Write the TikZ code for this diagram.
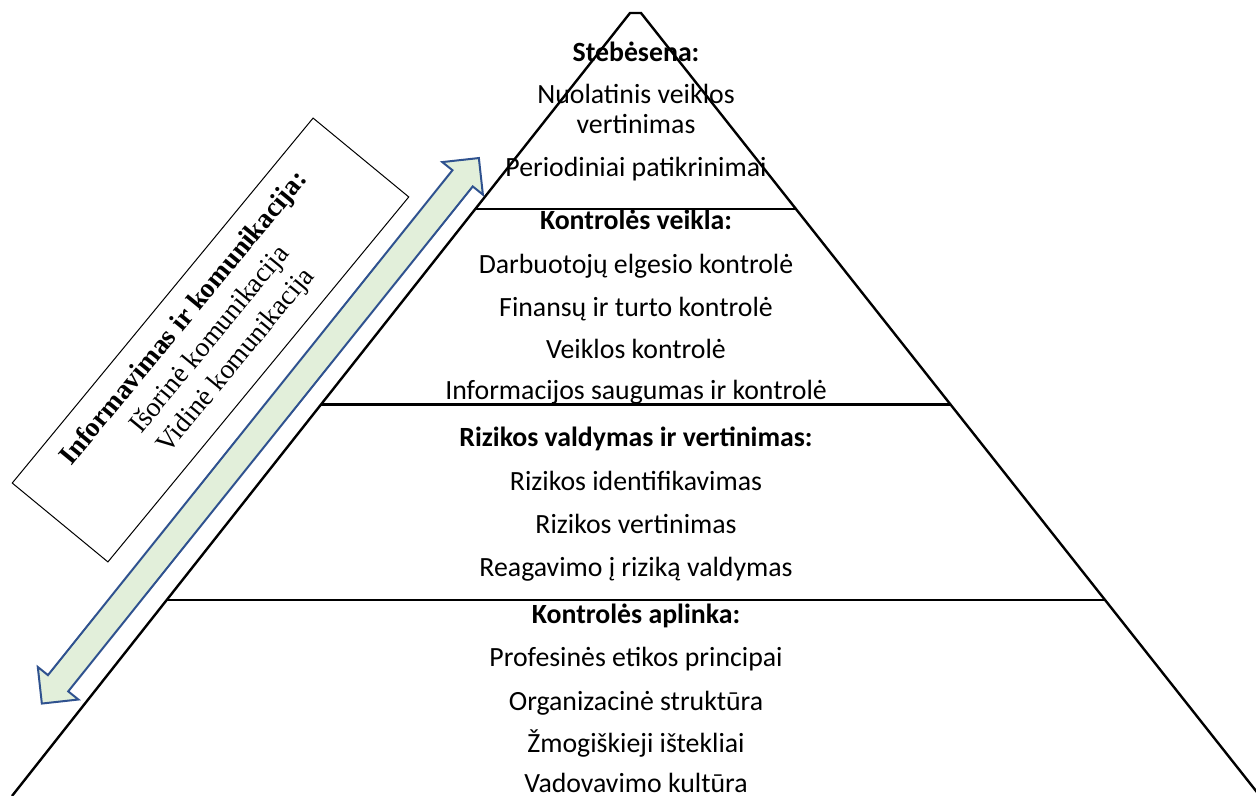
\documentclass[tikz,border=0pt]{standalone}
\usepackage{fontspec}
\setmainfont{Carlito}
\newfontfamily\timesfont{Liberation Serif}
\usetikzlibrary{calc}

\definecolor{arrowblue}{RGB}{47,82,143}
\definecolor{arrowgreen}{RGB}{226,239,218}

\begin{document}
\begin{tikzpicture}[
  x=0.5pt, y=-0.5pt,
  side/.style={line width=1.2pt, line join=miter},
  item/.style={anchor=base, inner sep=0pt, font=\fontsize{13.9}{16}\selectfont},
  head/.style={item, font=\fontsize{13.9}{16}\selectfont\bfseries},
  infobox/.style={draw, line width=0.5pt, rotate=50.5, minimum width=236.5pt,
                  minimum height=62pt, align=center,
                  font=\timesfont\fontsize{13.8}{16.7}\selectfont},
  flow/.style={draw=arrowblue, fill=arrowgreen, line width=1pt, line join=miter}
]
\useasboundingbox (0,0) rectangle (1256,796);

% pyramid
\coordinate (bl) at (12,796);
\coordinate (tl) at (630,13);
\coordinate (tr) at (641,13);
\coordinate (br) at (1260,796);
\draw[side] (bl) -- (tl) -- (tr) -- (br);
\foreach \t in {0.25,0.5,0.75}
  \draw[side] ($(tl)!\t!(bl)$) -- ($(tr)!\t!(br)$);

% top tier
\node[head] (steb) at (636,61.7) {Stebėsena:};
\node[item] (s1) at (636,103.3) {Nuolatinis veiklos};
\node[item] (s2) at (636,133.3) {vertinimas};
\node[item] (s3) at (636,176.7) {Periodiniai patikrinimai};

% second tier
\node[head] (veikla) at (636,229.3) {Kontrolės veikla:};
\node[item] (v1) at (636,273.3) {Darbuotojų elgesio kontrolė};
\node[item] (v2) at (636,316.7) {Finansų ir turto kontrolė};
\node[item] (v3) at (636,358.5) {Veiklos kontrolė};
\node[item] (v4) at (636,399.5) {Informacijos saugumas ir kontrolė};

% third tier
\node[head] (rizika) at (636,446.7) {Rizikos valdymas ir vertinimas:};
\node[item] (r1) at (636,490) {Rizikos identifikavimas};
\node[item] (r2) at (636,533.3) {Rizikos vertinimas};
\node[item] (r3) at (636,576.7) {Reagavimo į riziką valdymas};

% base tier
\node[head] (aplinka) at (636,623.3) {Kontrolės aplinka:};
\node[item] (a1) at (636,666.7) {Profesinės etikos principai};
\node[item] (a2) at (636,710) {Organizacinė struktūra};
\node[item] (a3) at (636,752.5) {Žmogiškieji ištekliai};
\node[item] (a4) at (636,792) {Vadovavimo kultūra};

% information box
\node[infobox] (info) at (210.5,340)
  {{\bfseries Informavimas ir komunikacija:}\\Išorinė komunikacija\\Vidinė komunikacija};

% two-way arrow
\coordinate (lo) at (41.7,703.3);
\coordinate (hi) at (479,158.3);
\begin{scope}[shift={($(lo)!0.5!(hi)$)}, rotate=51.3]
  \draw[flow] (349.5,0) -- (323.5,26) -- (323.5,13) -- (-323.5,13) -- (-323.5,26)
    -- (-349.5,0) -- (-323.5,-26) -- (-323.5,-13) -- (323.5,-13) -- (323.5,-26) -- cycle;
\end{scope}
\end{tikzpicture}
\end{document}
